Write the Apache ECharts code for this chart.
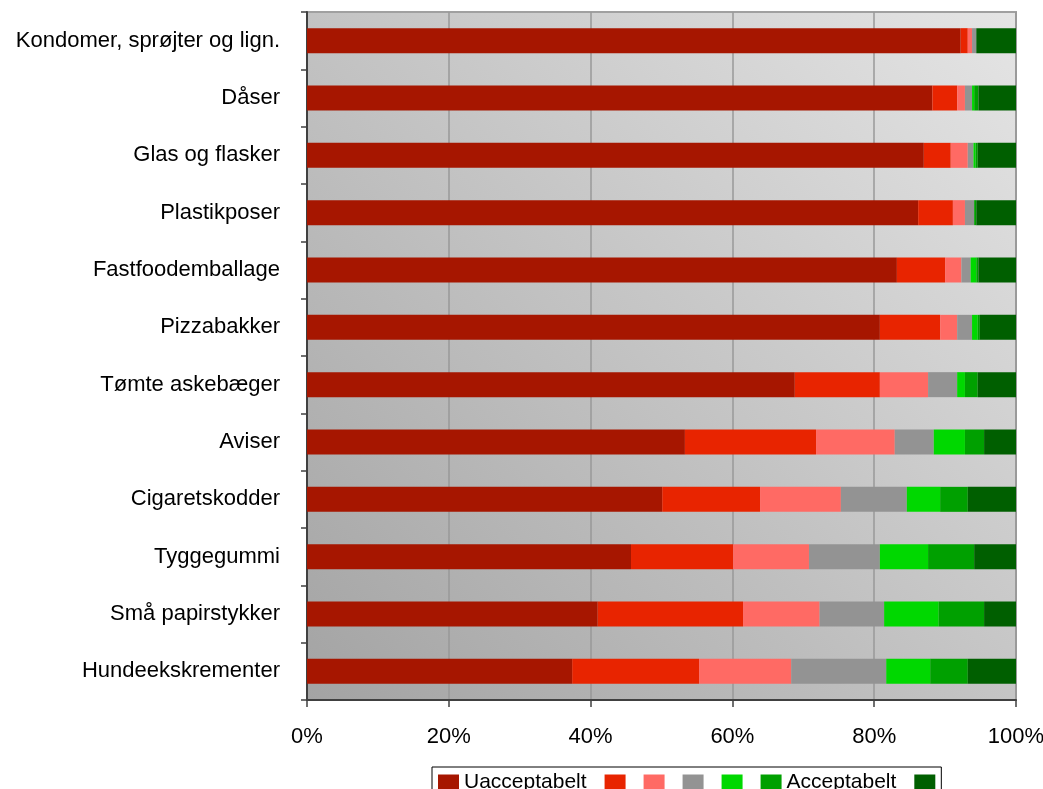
<!DOCTYPE html>
<html>
<head>
<meta charset="utf-8">
<script src="https://cdn.jsdelivr.net/npm/echarts@6/dist/echarts.min.js"></script>
<style>html,body{margin:0;padding:0;background:#fff;overflow:hidden}#c{width:1043px;height:789px}</style>
</head>
<body>
<div id="c"></div>
<script>
var categories = ['Kondomer, sprøjter og lign.','Dåser','Glas og flasker','Plastikposer','Fastfoodemballage','Pizzabakker','Tømte askebæger','Aviser','Cigaretskodder','Tyggegummi','Små papirstykker','Hundeekskrementer'];
var seriesNames = ['Uacceptabelt','s2','s3','s4','s5','Acceptabelt','s7'];
var legendLabels = ['Uacceptabelt','','','','','Acceptabelt',''];
var s1 = [92.2, 88.2, 87.0, 86.2, 83.2, 80.8, 68.8, 53.3, 50.1, 45.7, 41.0, 37.4];
var s2 = [1.0, 3.5, 3.8, 4.9, 6.8, 8.5, 12.0, 18.5, 13.8, 14.4, 20.5, 17.9];
var s3 = [0.6, 1.1, 2.4, 1.7, 2.3, 2.4, 6.8, 11.1, 11.4, 10.7, 10.8, 13.0];
var s4 = [0.6, 1.0, 0.8, 1.3, 1.3, 2.1, 4.1, 5.5, 9.3, 10.0, 9.1, 13.4];
var s5 = [0, 0.3, 0.3, 0, 0.8, 0.8, 1.1, 4.4, 4.7, 6.8, 7.7, 6.2];
var s6 = [0, 0.6, 0.3, 0.3, 0.3, 0.3, 1.8, 2.7, 3.9, 6.5, 6.4, 5.3];
var s7 = [5.6, 5.3, 5.4, 5.6, 5.3, 5.1, 5.4, 4.5, 6.8, 5.9, 4.5, 6.8];
var seriesData = [s1, s2, s3, s4, s5, s6, s7];
var colors = ['#a61600','#e82400','#ff6a64','#939393','#00d800','#00a000','#005f00'];
var xTicks = [0, 20, 40, 60, 80, 100];

var FONT = '"Liberation Sans", Arial, sans-serif';
var LEG_FS = 21;
var chart = echarts.init(document.getElementById('c'), null, {renderer: 'canvas'});
var series = seriesNames.map(function (n, i) {
  return {
    name: n, type: 'bar', stack: 'total', data: seriesData[i],
    barWidth: 25, itemStyle: {color: colors[i]}, animation: false
  };
});
chart.setOption({
  animation: false,
  color: colors,
  grid: {
    left: 307, right: 27, top: 12, bottom: 89, containLabel: false,
    outerBoundsMode: 'none',
    show: true, borderColor: '#a0a0a0', borderWidth: 2,
    backgroundColor: new echarts.graphic.LinearGradient(0, 1, 1, 0, [
      {offset: 0, color: '#a3a3a3'}, {offset: 1, color: '#e5e5e5'}
    ])
  },
  legend: {
    data: seriesNames,
    left: 432, top: 767, orient: 'horizontal',
    itemWidth: 21, itemHeight: 16, itemGap: 18,
    padding: [5, 6, 5, 6], borderColor: '#000', borderWidth: 1, backgroundColor: '#fff',
    icon: 'rect', selectedMode: false,
    textStyle: {fontFamily: FONT, fontSize: LEG_FS, color: '#000'},
    formatter: function (name) { return legendLabels[seriesNames.indexOf(name)]; }
  },
  xAxis: {
    type: 'value', min: xTicks[0], max: xTicks[xTicks.length - 1], interval: 20,
    axisLine: {show: true, lineStyle: {color: '#404040', width: 2}},
    axisTick: {show: true, length: 7, lineStyle: {color: '#404040', width: 1.5}},
    axisLabel: {formatter: '{value}%', fontFamily: FONT, fontSize: 22, color: '#000', margin: 26},
    splitLine: {show: true, lineStyle: {color: '#999999', width: 1.5}}
  },
  yAxis: {
    type: 'category', data: categories, inverse: true,
    axisLine: {show: true, lineStyle: {color: '#404040', width: 2}},
    axisTick: {show: true, length: 6, alignWithLabel: false, lineStyle: {color: '#404040', width: 1.5}},
    axisLabel: {fontFamily: FONT, fontSize: 22, color: '#000', margin: 27},
    splitLine: {show: false}
  },
  series: series
});
</script>
</body>
</html>
